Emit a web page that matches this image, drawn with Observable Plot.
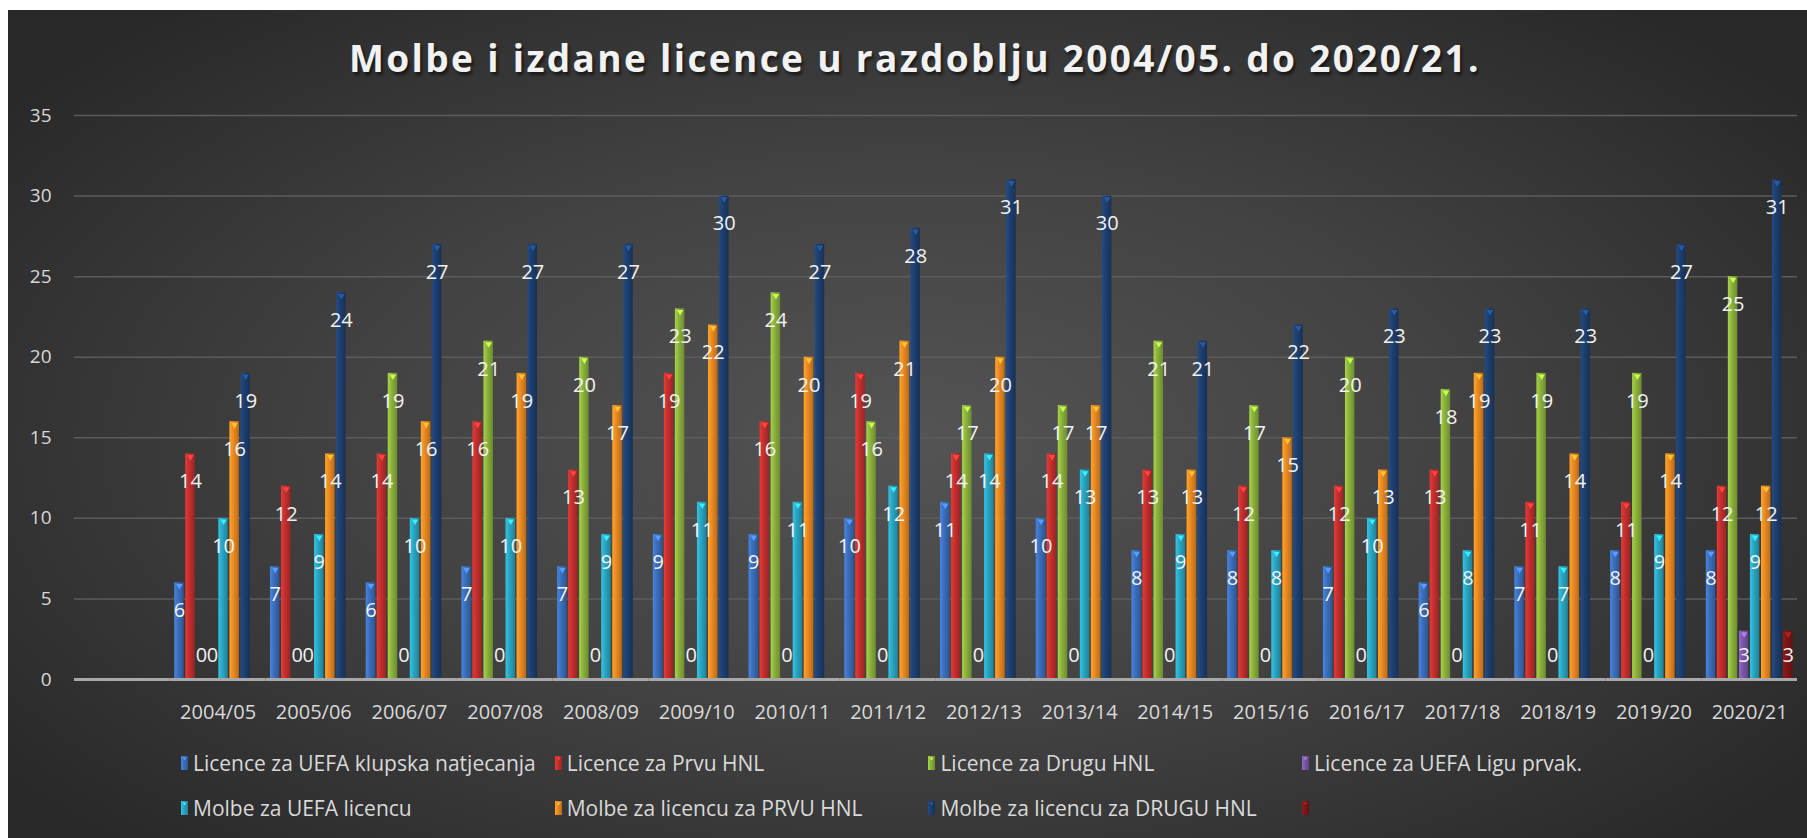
<!DOCTYPE html>
<html><head><meta charset="utf-8">
<script src="https://cdn.jsdelivr.net/npm/d3@7"></script>
<script src="https://cdn.jsdelivr.net/npm/@observablehq/plot@0.6"></script>
<style>
html,body{margin:0;padding:0;background:#fff;width:1807px;height:838px;overflow:hidden;font-family:"Open Sans",sans-serif;}
#bg{position:absolute;left:8px;top:10px;width:1799px;height:828px;background:radial-gradient(ellipse 62% 68% at 50% 52%, #545454 0%, #424242 50%, #292929 100%);}
#title{position:absolute;left:23px;width:1784px;top:38px;line-height:40px;text-align:center;font-weight:700;font-size:37px;color:#f2f2f2;text-shadow:2px 3px 3px rgba(0,0,0,0.55);letter-spacing:2.35px}
#chart{position:absolute;left:0;top:0}
.item{position:absolute;display:flex;align-items:center;height:24px;font-size:21px;color:#d9d9d9;white-space:nowrap}
.sw{width:7px;height:14px;margin-right:5px;flex:none}
#chart svg [aria-label="y-axis tick label"] text{font-size:19px}
</style>
</head><body>
<div id="bg"></div>
<div id="title">Molbe i izdane licence u razdoblju 2004/05. do 2020/21.</div>
<div id="chart"></div>
<div id="legend"></div>
<svg width="0" height="0" style="position:absolute"><defs id="defs"></defs></svg>
<script>
const seasons = ["2004/05","2005/06","2006/07","2007/08","2008/09","2009/10","2010/11","2011/12","2012/13","2013/14","2014/15","2015/16","2016/17","2017/18","2018/19","2019/20","2020/21"];
const seriesNames = ["Licence za UEFA klupska natjecanja","Licence za Prvu HNL","Licence za Drugu HNL","Licence za UEFA Ligu prvak.","Molbe za UEFA licencu","Molbe za licencu za PRVU HNL","Molbe za licencu za DRUGU HNL",""];
const seriesColors = ["#3b6fbd","#c3302e","#8cb23c","#7c57a8","#2aa6c2","#ec8a22","#1d3f6f","#7b1717"];
const uefaClub = [6,7,6,7,7,9,9,10,11,10,8,8,7,6,7,8,8];
const prvaLic  = [14,12,14,16,13,19,16,19,14,14,13,12,12,13,11,11,12];
const drugaLic = [0,0,19,21,20,23,24,16,17,17,21,17,20,18,19,19,25];
const uclLic   = [0,0,0,0,0,0,0,0,0,0,0,0,0,0,0,0,3];
const uefaReq  = [10,9,10,10,9,11,11,12,14,13,9,8,10,8,7,9,9];
const prvaReq  = [16,14,16,19,17,22,20,21,20,17,13,15,13,19,14,14,12];
const drugaReq = [19,24,27,27,27,30,27,28,31,30,21,22,23,23,23,27,31];
const extra    = [null,null,null,null,null,null,null,null,null,null,null,null,null,null,null,null,3];
const yTicks = [0,5,10,15,20,25,30,35];
const xDomain = ["", ...seasons]; // first category is empty in the source chart

const seriesValues = [uefaClub, prvaLic, drugaLic, uclLic, uefaReq, prvaReq, drugaReq, extra];

// gradients
const defs = document.getElementById("defs");
seriesColors.forEach((c,i)=>{
  const base = d3.color(c);
  const lg = document.createElementNS("http://www.w3.org/2000/svg","linearGradient");
  lg.setAttribute("id","g"+i); lg.setAttribute("x1","0"); lg.setAttribute("x2","1"); lg.setAttribute("y1","0"); lg.setAttribute("y2","0");
  [[0, base.brighter(0.5)],[0.4, base],[1, base.darker(0.7)]].forEach(([o,col])=>{
    const s = document.createElementNS("http://www.w3.org/2000/svg","stop");
    s.setAttribute("offset", o); s.setAttribute("stop-color", col.formatHex());
    lg.appendChild(s);
  });
  defs.appendChild(lg);
});

const rows = seasons.flatMap((s,i)=>seriesValues.map((vals,k)=>({season:s, series:seriesNames[k], k, value:vals[i]}))).filter(d=>d.value!=null);
const gridRows = xDomain.flatMap(s=>yTicks.filter(t=>t>0).map(t=>({season:s, t})));
const baseRows = xDomain.map(s=>({season:s, t:0}));

const chart = Plot.plot({
  width:1807, height:740,
  marginLeft:74, marginRight:10, marginTop:115, marginBottom:61,
  style:{background:"transparent", color:"#d9d9d9", fontSize:"20px", fontFamily:"'Open Sans', sans-serif", overflow:"visible"},
  fx:{domain:xDomain, padding:0, round:false, label:null, tickSize:0, tickPadding:25, axis:"bottom"},
  x:{domain:seriesNames, paddingInner:0.14, paddingOuter:0.41, round:false, axis:null},
  y:{domain:[0,35], ticks:yTicks, tickSize:0, tickPadding:23, label:null},
  color:{type:"identity"},
  marks:[
    Plot.ruleY(gridRows, {fx:"season", y:"t", stroke:"#5c5c5c", strokeWidth:1.5}),
    Plot.barY(rows, {fx:"season", x:"series", y:"value", fill:d=>`url(#g${d.k})`}),
    Plot.dot(rows.filter(d=>d.value>0), {fx:"season", x:"series", y:"value", symbol:"triangle", rotate:180, r:2.4, dy:3, fill:d=>d3.color(seriesColors[d.k]).brighter(1).formatHex()}),
    Plot.ruleY(baseRows, {fx:"season", y:"t", stroke:"#a8a8a8", strokeWidth:3}),
    Plot.text(rows, {fx:"season", x:"series", y:d=>Math.max(d.value,3.2), dy:28, text:d=>String(d.value), fill:"#f2f2f2", fontSize:20})
  ]
});
document.getElementById("chart").appendChild(chart);

// legend
const legend = document.getElementById("legend");
seriesNames.forEach((name,i)=>{
  const col = i%4, row = Math.floor(i/4);
  const it = document.createElement("div");
  it.className = "item";
  it.style.left = (181 + 373.7*col) + "px";
  it.style.top = (751 + 45*row) + "px";
  const sw = document.createElementNS("http://www.w3.org/2000/svg","svg");
  sw.setAttribute("class","sw"); sw.setAttribute("width","7"); sw.setAttribute("height","14");
  sw.innerHTML = `<rect width="7" height="14" fill="url(#g${i})"/><path d="M1.5,1.5 L5.5,1.5 L3.5,4.5Z" fill="${d3.color(seriesColors[i]).brighter(1).formatHex()}"/>`;
  it.appendChild(sw);
  const t = document.createElement("span"); t.textContent = name;
  it.appendChild(t);
  legend.appendChild(it);
});
</script>
</body></html>
